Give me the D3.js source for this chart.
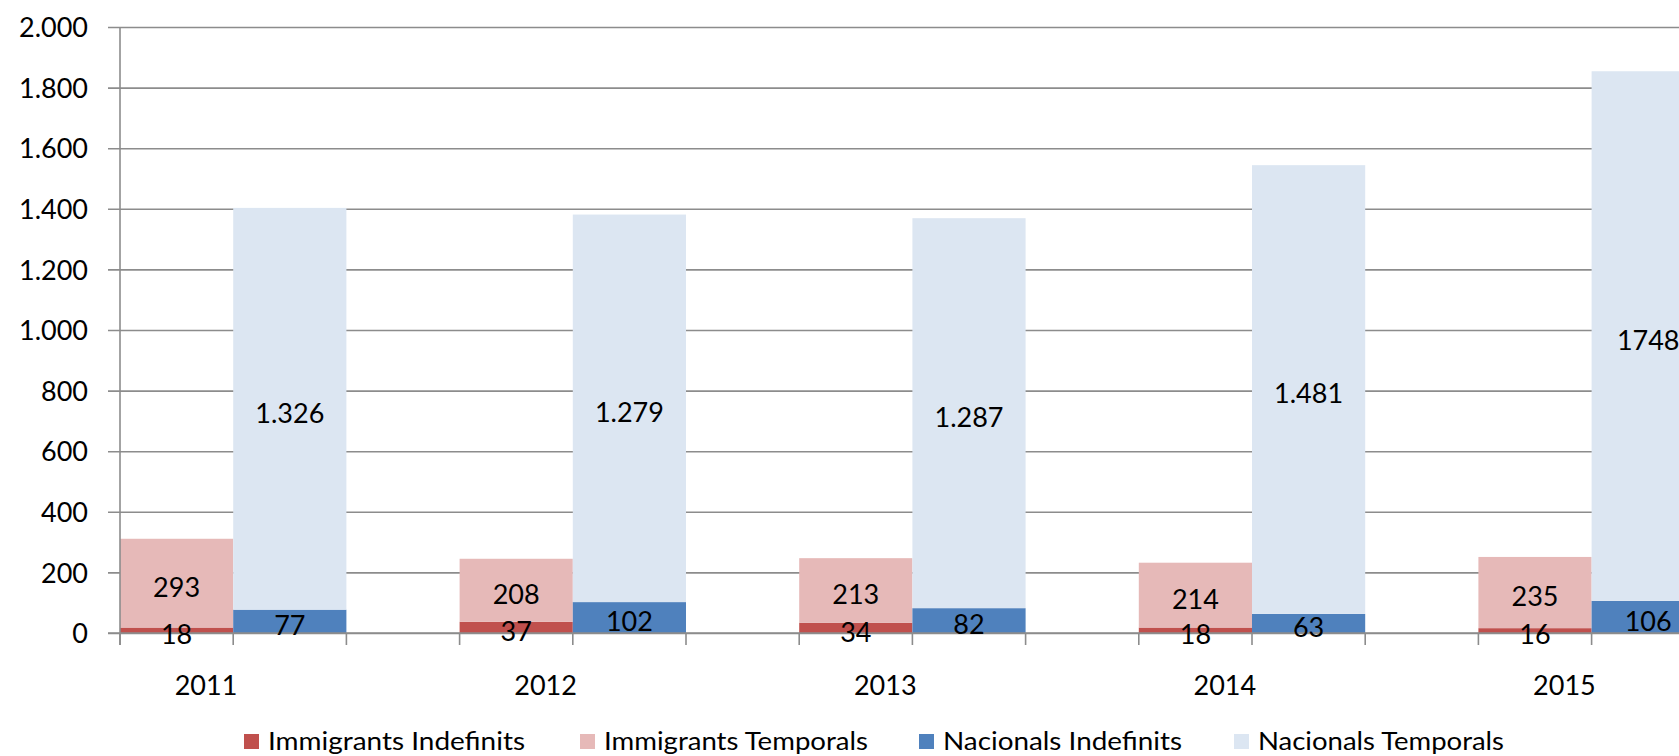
<!DOCTYPE html>
<html>
<head>
<meta charset="utf-8">
<script src="https://cdn.jsdelivr.net/npm/d3@7"></script>
<style>
  body { margin: 0; background: #fff; }
  text { font-family: Lato, "Open Sans", sans-serif; fill: #000; }
</style>
</head>
<body>
<div id="wrap"></div>
<script>
// data
var years = ["2011", "2012", "2013", "2014", "2015"];
var immIndef = [18, 37, 34, 18, 16];
var immTemp = [293, 208, 213, 214, 235];
var nacIndef = [77, 102, 82, 63, 106];
var nacTemp = [1326, 1279, 1287, 1481, 1748];
var nacTempLabels = ["1.326", "1.279", "1.287", "1.481", "1748"];
var yTicks = [0, 200, 400, 600, 800, 1000, 1200, 1400, 1600, 1800, 2000];
var seriesNames = ["Immigrants Indefinits", "Immigrants Temporals", "Nacionals Indefinits", "Nacionals Temporals"];
var colors = ["#C0504D", "#E6B9B8", "#4F81BD", "#DCE6F2"];

var width = 1679, height = 756;
var svg = d3.select('#wrap').append('svg')
  .attr('width', width)
  .attr('height', height);

// each year takes 3 slots: immigrants, nacionals, empty gap
var slots = [];
years.forEach(function(y) { slots.push(y + '-imm', y + '-nac', y + '-gap'); });
var slotW = 113.2, x0 = 120;
var x = d3.scaleBand().domain(slots).range([x0, x0 + slots.length * slotW]).padding(0);
var y = d3.scaleLinear().domain([0, 2000]).range([633, 27]);

var loc = d3.formatLocale({decimal: ",", thousands: ".", grouping: [3], currency: ["", ""]});
var fmt = loc.format(",");

//gridlines + y labels
var gy = svg.append('g')
  .attr('class', 'y-axis')
  .attr('transform', 'translate(108,0)')
  .call(d3.axisLeft(y).tickValues(yTicks).tickFormat(fmt)
    .tickSizeInner(-(width + 200)).tickSizeOuter(0).tickPadding(20));
gy.select('.domain').remove();
gy.selectAll('.tick line').attr('stroke', '#8c8c8c').attr('stroke-width', 1.6);
gy.selectAll('.tick text')
  .attr('dy', '0.36em')
  .style('font-size', '27px')
  .style('font-family', 'Lato, "Open Sans", sans-serif');

//stacked data
var bars = [];
years.forEach(function(yr, i) {
  bars.push({slot: yr + '-imm', y0: 0, y1: immIndef[i], c: colors[0], label: String(immIndef[i])});
  bars.push({slot: yr + '-imm', y0: immIndef[i], y1: immIndef[i] + immTemp[i], c: colors[1], label: String(immTemp[i])});
  bars.push({slot: yr + '-nac', y0: 0, y1: nacIndef[i], c: colors[2], label: String(nacIndef[i])});
  bars.push({slot: yr + '-nac', y0: nacIndef[i], y1: nacIndef[i] + nacTemp[i], c: colors[3], label: nacTempLabels[i]});
});

svg.append('g').selectAll('rect')
  .data(bars)
  .enter().append('rect')
    .attr('x', function(d) { return x(d.slot); })
    .attr('width', x.bandwidth())
    .attr('y', function(d) { return y(d.y1); })
    .attr('height', function(d) { return y(d.y0) - y(d.y1); })
    .attr('fill', function(d) { return d.c; });

//vertical axis line
svg.append('line')
  .attr('x1', x0).attr('x2', x0)
  .attr('y1', y(2000)).attr('y2', y(0) + 12)
  .attr('stroke', '#8c8c8c').attr('stroke-width', 1.6);

//x axis line and ticks at slot boundaries
svg.append('line')
  .attr('x1', 108).attr('x2', width + 200)
  .attr('y1', y(0)).attr('y2', y(0))
  .attr('stroke', '#8c8c8c').attr('stroke-width', 1.6);
svg.append('g').selectAll('line')
  .data(slots)
  .enter().append('line')
    .attr('x1', function(d) { return x(d); })
    .attr('x2', function(d) { return x(d); })
    .attr('y1', y(0)).attr('y2', y(0) + 12)
    .attr('stroke', '#8c8c8c').attr('stroke-width', 1.6);

//data labels
svg.append('g').selectAll('text')
  .data(bars)
  .enter().append('text')
    .attr('x', function(d) { return x(d.slot) + x.bandwidth() / 2; })
    .attr('y', function(d) { return (y(d.y0) + y(d.y1)) / 2 + 4; })
    .attr('dy', '0.36em')
    .attr('text-anchor', 'middle')
    .style('font-size', '27px')
    .text(function(d) { return d.label; });

//year labels
svg.append('g').selectAll('text')
  .data(years)
  .enter().append('text')
    .attr('x', function(d) { return x(d + '-imm') + x.bandwidth() * 0.76; })
    .attr('y', 695)
    .attr('text-anchor', 'middle')
    .style('font-size', '27px')
    .text(function(d) { return d; });

//legend
var legX = [244, 580, 919, 1234],
    legW = [257, 264, 239, 246];
var leg = svg.append('g').selectAll('g')
  .data(seriesNames)
  .enter().append('g')
    .attr('transform', function(d, i) { return 'translate(' + legX[i] + ',734)'; });
leg.append('rect')
  .attr('width', 15).attr('height', 15)
  .attr('fill', function(d, i) { return colors[i]; });
leg.append('text')
  .attr('x', 24)
  .attr('y', 16)
  .attr('textLength', function(d, i) { return legW[i]; })
  .attr('lengthAdjust', 'spacingAndGlyphs')
  .style('font-size', '25px')
  .text(function(d) { return d; });
</script>
</body>
</html>
